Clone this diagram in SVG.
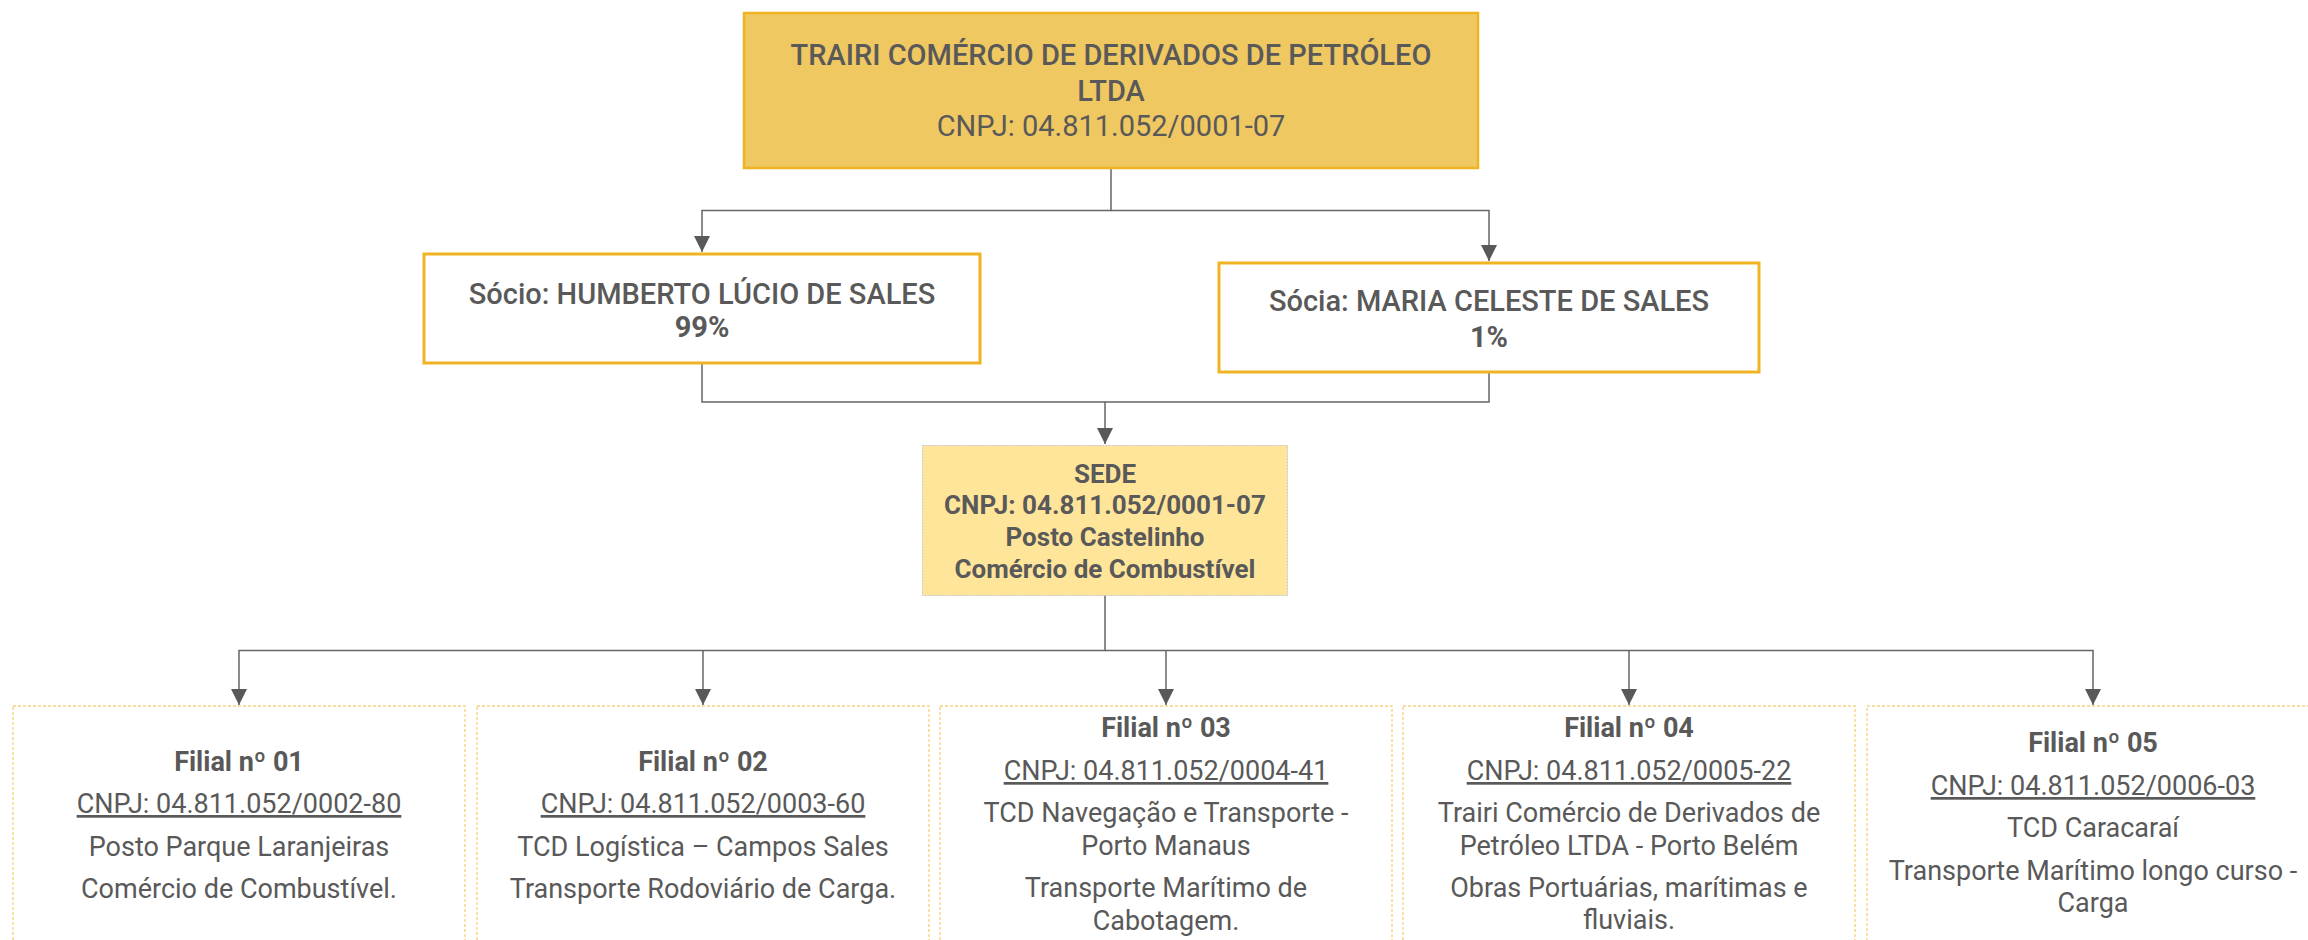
<svg xmlns="http://www.w3.org/2000/svg" width="2308" height="940" viewBox="0 0 2308 940">
<style>
text{font-family:Roboto,"Liberation Sans",sans-serif;fill:#595959;text-anchor:middle}
.t29{font-size:29px}
.t26{font-size:26px;font-weight:700}
.t27{font-size:27px}
.b{font-weight:700}
.m{font-weight:500}
.u{text-decoration:underline}
.conn{fill:none;stroke:#666;stroke-width:1.5}
.filial{fill:#fff;stroke:#F7D27A;stroke-width:1.3;stroke-dasharray:3 2}
</style>
<defs>
<marker id="arr" viewBox="0 0 16 16" refX="16" refY="8" markerWidth="16" markerHeight="16" markerUnits="userSpaceOnUse" orient="auto">
<path d="M0,0 L16,8 L0,16 Z" fill="#595959"/>
</marker>
</defs>
<g id="connectors">
<path class="conn" d="M1111,168 V210.5 H702 V252" marker-end="url(#arr)"/>
<path class="conn" d="M1111,210.5 H1489 V261" marker-end="url(#arr)"/>
<path class="conn" d="M702,363 V402 H1105 V444" marker-end="url(#arr)"/>
<path class="conn" d="M1489,372 V402 H1105"/>
<path class="conn" d="M1105,595 V650.5 H239 V705" marker-end="url(#arr)"/>
<path class="conn" d="M703,650.5 V705" marker-end="url(#arr)"/>
<path class="conn" d="M1105,650.5 H2093 V705" marker-end="url(#arr)"/>
<path class="conn" d="M1166,650.5 V705" marker-end="url(#arr)"/>
<path class="conn" d="M1629,650.5 V705" marker-end="url(#arr)"/>
</g>
<g id="empresa">
<rect x="744" y="13" width="734" height="155" fill="#EFC862" stroke="#F0B323" stroke-width="2.5"/>
<text class="t29 m" x="1111" y="65">TRAIRI COMÉRCIO DE DERIVADOS DE PETRÓLEO</text>
<text class="t29 m" x="1111" y="101">LTDA</text>
<text class="t29" x="1111" y="136">CNPJ: 04.811.052/0001-07</text>
</g>
<g id="socio-humberto">
<rect x="424" y="254" width="556" height="109" fill="#fff" stroke="#F0B323" stroke-width="3"/>
<text class="t29 m" x="702" y="304">Sócio: HUMBERTO LÚCIO DE SALES</text>
<text class="t29 b" x="702" y="337">99%</text>
</g>
<g id="socia-maria">
<rect x="1219" y="263" width="540" height="109" fill="#fff" stroke="#F0B323" stroke-width="3"/>
<text class="t29 m" x="1489" y="311">Sócia: MARIA CELESTE DE SALES</text>
<text class="t29 b" x="1489" y="347">1%</text>
</g>
<g id="sede">
<rect x="922.5" y="445.5" width="365" height="150" fill="#FFE599" stroke="#C9C9C9" stroke-width="1" stroke-dasharray="2 1"/>
<text class="t26" x="1105" y="483">SEDE</text>
<text class="t26" x="1105" y="514">CNPJ: 04.811.052/0001-07</text>
<text class="t26" x="1105" y="546">Posto Castelinho</text>
<text class="t26" x="1105" y="578">Comércio de Combustível</text>
</g>
<g id="filial-01">
<rect class="filial" x="13" y="706" width="452" height="260"/>
<text class="t27 b" x="239" y="771">Filial nº 01</text>
<text class="t27 u" x="239" y="813">CNPJ: 04.811.052/0002-80</text>
<text class="t27" x="239" y="856">Posto Parque Laranjeiras</text>
<text class="t27" x="239" y="898">Comércio de Combustível.</text>
</g>
<g id="filial-02">
<rect class="filial" x="477" y="706" width="452" height="260"/>
<text class="t27 b" x="703" y="771">Filial nº 02</text>
<text class="t27 u" x="703" y="813">CNPJ: 04.811.052/0003-60</text>
<text class="t27" x="703" y="856">TCD Logística – Campos Sales</text>
<text class="t27" x="703" y="898">Transporte Rodoviário de Carga.</text>
</g>
<g id="filial-03">
<rect class="filial" x="940" y="706" width="452" height="260"/>
<text class="t27 b" x="1166" y="737">Filial nº 03</text>
<text class="t27 u" x="1166" y="780">CNPJ: 04.811.052/0004-41</text>
<text class="t27" x="1166" y="822">TCD Navegação e Transporte -</text>
<text class="t27" x="1166" y="855">Porto Manaus</text>
<text class="t27" x="1166" y="897">Transporte Marítimo de</text>
<text class="t27" x="1166" y="930">Cabotagem.</text>
</g>
<g id="filial-04">
<rect class="filial" x="1403" y="706" width="452" height="260"/>
<text class="t27 b" x="1629" y="737">Filial nº 04</text>
<text class="t27 u" x="1629" y="780">CNPJ: 04.811.052/0005-22</text>
<text class="t27" x="1629" y="822">Trairi Comércio de Derivados de</text>
<text class="t27" x="1629" y="855">Petróleo LTDA - Porto Belém</text>
<text class="t27" x="1629" y="897">Obras Portuárias, marítimas e</text>
<text class="t27" x="1629" y="929">fluviais.</text>
</g>
<g id="filial-05">
<rect class="filial" x="1867" y="706" width="460" height="260"/>
<text class="t27 b" x="2093" y="752">Filial nº 05</text>
<text class="t27 u" x="2093" y="795">CNPJ: 04.811.052/0006-03</text>
<text class="t27" x="2093" y="837">TCD Caracaraí</text>
<text class="t27" x="2093" y="880">Transporte Marítimo longo curso -</text>
<text class="t27" x="2093" y="912">Carga</text>
</g>
</svg>
